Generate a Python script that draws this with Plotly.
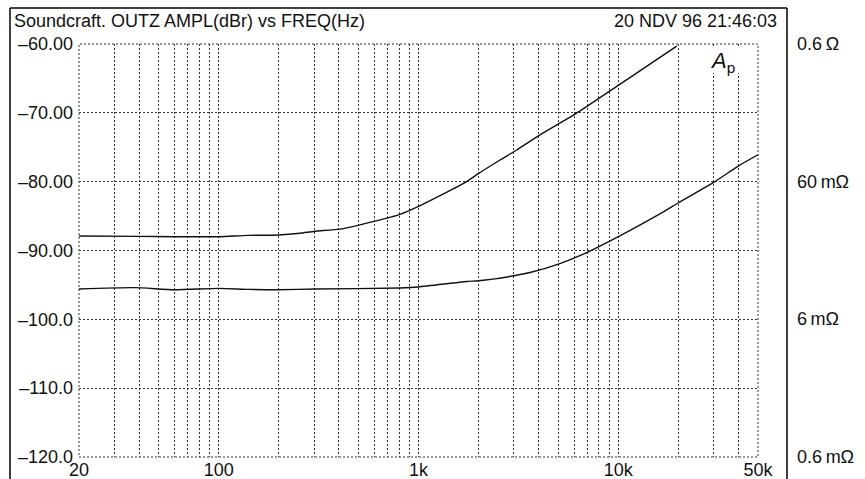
import plotly.graph_objects as go

# ---- data ----
freq_upper = [20, 40, 60, 100, 140, 200, 255, 303, 405, 592, 809, 1000, 1742, 2000,
              2560, 3100, 4055, 6070, 10000, 19600]
ampl_upper = [-87.9, -87.95, -88.0, -88.0, -87.8, -87.75, -87.5, -87.2, -86.9, -85.8,
              -84.75, -83.6, -80.0, -78.8, -76.85, -75.4, -73.2, -70.2, -66.0, -60.3]

freq_lower = [20, 38, 60, 100, 140, 200, 303, 809, 1000, 1742, 2000, 3100, 3615, 5100,
              7080, 10000, 16800, 20000, 30000, 40000, 50000]
ampl_lower = [-95.6, -95.4, -95.7, -95.5, -95.65, -95.7, -95.6, -95.45, -95.3, -94.5,
              -94.4, -93.6, -93.2, -91.9, -90.2, -88.0, -84.4, -83.06, -80.1, -77.7, -76.1]

x_grid = [20, 30, 40, 50, 60, 70, 80, 90,
          100, 200, 300, 400, 500, 600, 700, 800, 900,
          1000, 2000, 3000, 4000, 5000, 6000, 7000, 8000, 9000,
          10000, 20000, 30000, 40000, 50000]
x_labels = {20: "20", 100: "100", 1000: "1k", 10000: "10k", 50000: "50k"}
x_ticktext = [x_labels.get(v, "") for v in x_grid]

y_ticks = [-60, -70, -80, -90, -100, -110, -120]
y_ticktext = ["\u201360.00", "\u201370.00", "\u201380.00", "\u201390.00",
              "\u2013100.0", "\u2013110.0", "\u2013120.0"]

ohm_labels = ["0.6\u2009\u03a9", "60\u2009m\u03a9", "6\u2009m\u03a9", "0.6\u2009m\u03a9"]
ohm_levels = [-60, -80, -100, -120]

title_left = "Soundcraft. OUTZ AMPL(dBr) vs FREQ(Hz)"
title_right = "20 NDV 96 21:46:03"

FONT = "Arial, Liberation Sans, Helvetica, sans-serif"
W, H = 865, 479
L, R, T, B = 79, 107, 44, 22
GRID = "#333333"

fig = go.Figure()
for fx, fy in ((freq_upper, ampl_upper), (freq_lower, ampl_lower)):
    fig.add_trace(go.Scatter(x=fx, y=fy, mode="lines",
                             line=dict(color="#111111", width=1.4, shape="spline", smoothing=0.6),
                             hoverinfo="skip", showlegend=False, cliponaxis=True))

fig.update_xaxes(type="log", range=[1.3010299, 4.6989701], tickvals=x_grid, ticktext=x_ticktext,
                 showgrid=True, gridcolor=GRID, gridwidth=1, griddash="2px,2px",
                 zeroline=False, showline=False, ticks="", automargin=False,
                 ticklabelstandoff=0,
                 tickfont=dict(family=FONT, size=18, color="#111111"))
fig.update_yaxes(range=[-120, -60], tickvals=y_ticks, ticktext=y_ticktext,
                 showgrid=True, gridcolor=GRID, gridwidth=1, griddash="2px,2px",
                 zeroline=False, showline=False, ticks="", automargin=False,
                 ticklabelstandoff=5,
                 tickfont=dict(family=FONT, size=18, color="#111111"))

pw, ph = W - L - R, H - T - B
def px(x):
    return (x - L) / pw
def py(y):
    return (H - B - y) / ph

shapes = [
    # outer frame
    dict(type="line", xref="paper", yref="paper", x0=px(10), x1=px(10), y0=py(8), y1=py(482),
         line=dict(color="black", width=1.5)),
    dict(type="line", xref="paper", yref="paper", x0=px(10), x1=px(787), y0=py(8), y1=py(8),
         line=dict(color="black", width=1.5)),
    dict(type="line", xref="paper", yref="paper", x0=px(787), x1=px(787), y0=py(8), y1=py(482),
         line=dict(color="black", width=1.5)),
    # plot-area border (dotted like the grid)
    dict(type="rect", xref="paper", yref="paper", x0=0, x1=1, y0=0, y1=1,
         line=dict(color=GRID, width=1, dash="2px,2px"), layer="below"),
    # blank area behind the logo
    dict(type="rect", xref="paper", yref="paper", x0=px(700), x1=px(753), y0=py(48), y1=py(73),
         fillcolor="white", line=dict(width=0), layer="above"),
]

annotations = [
    dict(text=title_left, xref="paper", yref="paper", x=px(12), y=py(21), xanchor="left",
         yanchor="middle", showarrow=False, font=dict(family=FONT, size=18, color="#111111")),
    dict(text=title_right, xref="paper", yref="paper", x=px(779), y=py(21), xanchor="right",
         yanchor="middle", showarrow=False, font=dict(family=FONT, size=18, color="#111111")),
    dict(text="<i>A</i><sub>p</sub>", xref="paper", yref="paper", x=px(708), y=py(62),
         xanchor="left", yanchor="middle", showarrow=False,
         font=dict(family=FONT, size=22, color="#111111")),
]
for lab, lev in zip(ohm_labels, ohm_levels):
    annotations.append(dict(text=lab, xref="paper", yref="y", x=px(795), y=lev,
                            xanchor="left", yanchor="middle", showarrow=False,
                            font=dict(family=FONT, size=18, color="#111111")))

fig.update_layout(width=W, height=H, margin=dict(l=L, r=R, t=T, b=B, pad=0),
                  paper_bgcolor="white", plot_bgcolor="white",
                  shapes=shapes, annotations=annotations, showlegend=False)

fig.write_html("out.html", config={"displayModeBar": False},
               post_script="document.body.style.margin='0px';document.body.style.padding='0px';")
